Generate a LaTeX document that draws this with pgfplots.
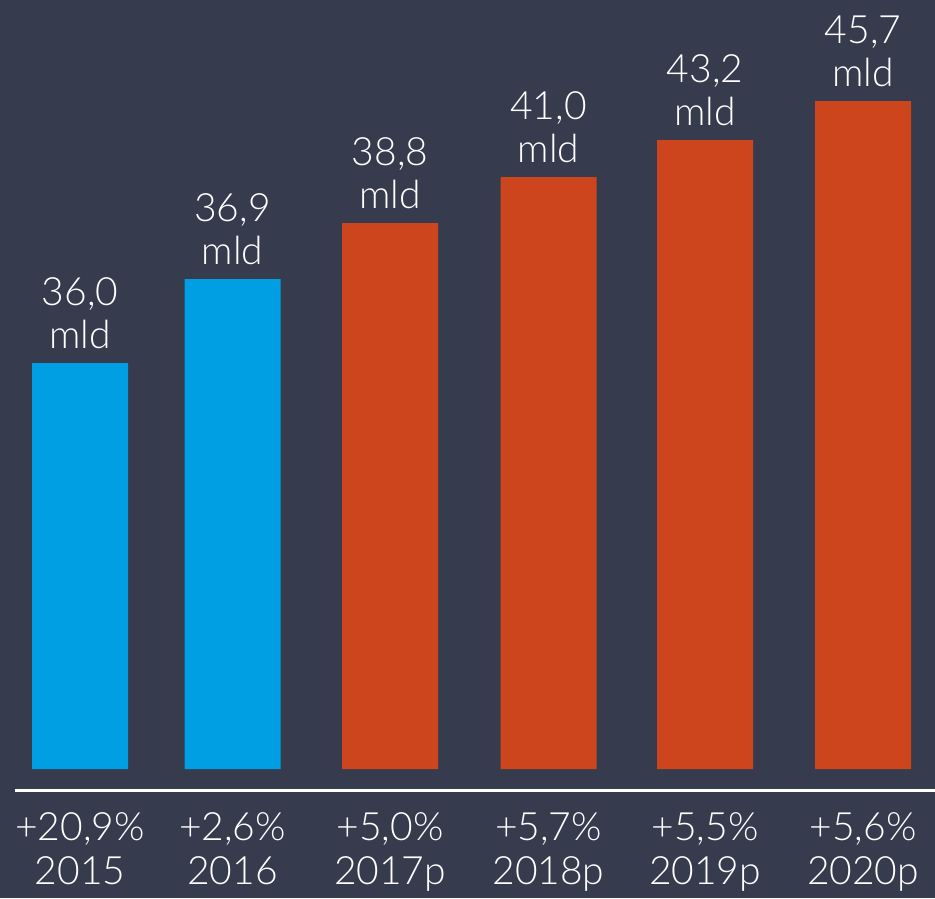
\documentclass[border=0pt]{standalone}
\usepackage{pgfplots}
\pgfplotsset{compat=1.18}
\usepackage{pgfplotstable}
\usepackage{fontspec}
\setmainfont{Lato}[UprightFont=* Light]

\definecolor{bg}{RGB}{55,59,78}
\definecolor{histblue}{RGB}{0,159,227}
\definecolor{fcred}{RGB}{205,69,29}

% x = bar centre, h = drawn bar height (chart not to scale), v = value in mld
\pgfplotstableread{
x h v
80 406 36.0
232.5 490 36.9
}\actual
\pgfplotstableread{
x h v
390 546 38.8
548.5 592 41.0
705 629 43.2
863 668 45.7
}\forecast

\begin{document}
\begin{tikzpicture}
\begin{axis}[
  scale only axis,
  width=467.5pt, height=449pt,
  xmin=0, xmax=935,
  ymin=-129, ymax=769,
  axis line style={draw=none},
  axis background/.style={fill=bg},
  ytick=\empty,
  xtick={80,232.5,390,548.5,705,863},
  xticklabels={{+20,9\%\\2015},{+2,6\%\\2016},{+5,0\%\\2017p},{+5,7\%\\2018p},{+5,5\%\\2019p},{+5,6\%\\2020p}},
  major tick length=0pt,
  xticklabel style={align=center, text=white, inner sep=0pt, anchor=north, yshift=43pt,
    font=\fontsize{19.5}{22}\selectfont},
  ybar, bar width=48pt, bar shift=0pt,
  point meta=explicit,
  nodes near coords={\pgfmathprintnumber[fixed,fixed zerofill,precision=1,use comma]{\pgfplotspointmeta}\\mld},
  every node near coord/.append style={align=center, text=white, inner sep=0pt, anchor=south,
    yshift=7pt, font=\fontsize{19.5}{21.5}\selectfont, /pgf/number format/assume math mode=true},
]
\addplot[fill=histblue, draw=none] table[x=x, y=h, meta=v] {\actual};
\addplot[fill=fcred, draw=none] table[x=x, y=h, meta=v] {\forecast};
\draw[white, line width=1.5pt] (axis cs:15,-21) -- (axis cs:935,-21);
\end{axis}
\end{tikzpicture}
\end{document}
